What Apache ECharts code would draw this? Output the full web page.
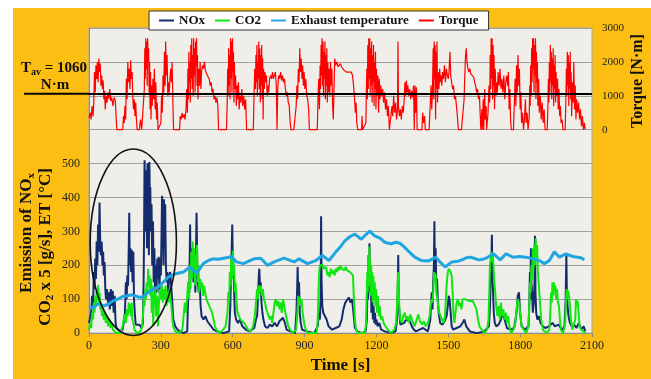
<!DOCTYPE html>
<html>
<head>
<meta charset="utf-8">
<script src="https://cdn.jsdelivr.net/npm/echarts@6/dist/echarts.min.js"></script>
<style>
  html, body { margin: 0; padding: 0; background: #fff; }
  #wrap { position: relative; width: 651px; height: 379px; overflow: hidden; }
  #bg { position: absolute; left: 13px; top: 8px; right: 0; bottom: 0; background: #FDBE14; }
  #chart { position: absolute; left: 0; top: 0; width: 651px; height: 379px; }
</style>
</head>
<body>
<div id="wrap"><div id="bg"></div><div id="chart"></div></div>
<script>
// [time s, value]
const torque = [
  [0,350],[5,500],[9,300],[13,700],[17,400],[20,800],[23,1700],[26,1100],[29,1900],[32,1500],[35,2000],[38,1400],[41,2100],[44,1700],[47,1950],[50,1300],[53,1600],[56,1200],[59,1450],[62,900],[65,1150],[68,600],[71,1000],[75,800],[79,1100],[83,900],[87,1200],[91,850],[95,950],[100,700],[105,950],[110,850],[113,400],[116,0],[125,0],[133,0],[141,0],[144,400],[147,200],[150,700],[153,300],[156,1500],[159,900],[162,2000],[165,1400],[168,1800],[171,1200],[174,2050],[177,1500],[180,1700],[183,900],[186,600],[189,900],[192,400],[195,800],[198,300],[201,0],[210,0],[215,300],[220,0],[228,0],
  [231,1200],[233,2400],[235,1500],[237,2700],[239,1800],[241,2600],[243,1300],[245,2700],[247,2000],[249,2400],[251,1100],[253,2000],[255,600],[257,1700],[259,300],[261,1300],[264,700],[267,1500],[270,900],[273,1800],[276,600],[279,1400],[282,300],[285,800],[288,0],[295,0],[300,200],[303,1000],[306,500],[309,1600],[312,1100],[315,2300],[318,1300],[320,2600],[323,1600],[326,2200],[329,1000],[332,1400],[335,1100],[338,1500],[341,1800],[344,1400],[347,2000],[350,900],[353,0],[365,0],[378,0],[381,400],[385,300],[389,500],[393,350],[397,450],[401,300],[405,600],
  [408,1200],[411,500],[413,1800],[415,900],[417,2300],[419,1400],[421,2000],[423,800],[425,2500],[427,1500],[429,2700],[431,1200],[433,2200],[435,1000],[437,2700],[439,1600],[441,2400],[443,1100],[445,2600],[447,1900],[449,2700],[451,1300],[453,2200],[455,900],[458,1800],[461,1300],[464,2000],[467,1200],[470,1700],[474,1900],[478,1800],[482,2000],[486,1750],[490,1800],[494,1600],[498,1650],[502,1500],[506,1300],[510,1400],[514,1100],[518,1200],[522,900],[526,1000],[530,800],[534,950],[538,700],[541,0],[555,0],[574,0],
  [577,800],[579,1800],[581,1000],[583,2400],[585,1300],[587,2200],[589,900],[591,2700],[593,1500],[595,2600],[597,1100],[599,2700],[601,1700],[603,2300],[605,800],[607,2000],[609,1200],[612,1600],[615,700],[618,1300],[621,900],[624,1400],[627,600],[630,1000],[634,800],[638,1200],[642,700],[646,1000],[650,600],[654,900],[658,0],[670,0],[686,0],
  [689,1000],[692,1800],[695,1200],[697,2200],[699,1400],[701,2500],[703,1000],[705,2000],[707,1500],[709,2600],[711,1200],[713,2400],[715,800],[717,2200],[719,1300],[721,2500],[723,900],[725,2100],[727,300],[729,1800],[732,1200],[735,1700],[738,1400],[741,1600],[744,1000],[747,1300],[750,1100],[754,1500],[758,1600],[762,1500],[766,1700],[770,1500],[774,1600],[778,1700],[782,1300],[785,0],[788,1200],[792,1600],[796,1500],[800,1700],[804,1450],[808,1600],[812,1400],[816,1500],[820,1200],[824,1000],[828,1100],[832,800],[836,700],[840,200],[843,0],[855,0],[862,0],
  [865,700],[868,1300],[871,900],[874,1800],[877,1400],[880,2400],[883,1700],[886,2100],[889,1500],[892,1900],[895,1300],[898,1700],[901,1200],[905,1500],[909,1000],[913,900],[917,600],[920,0],[935,0],[953,0],
  [956,900],[959,1500],[962,600],[965,1900],[967,1200],[969,2500],[971,1600],[973,2700],[975,1300],[977,2600],[979,1000],[981,2300],[983,1500],[985,2600],[987,900],[989,2200],[991,1300],[993,2400],[995,800],[997,2000],[999,1100],[1002,1800],[1005,1000],[1008,2000],[1011,1300],[1014,1800],[1017,700],[1020,300],[1023,1200],[1026,2100],[1030,1900],[1035,2000],[1040,1850],
  [1045,1900],[1050,1950],[1055,1850],[1060,1800],[1065,1750],[1070,1800],[1075,1700],[1080,1750],[1085,1700],[1090,1650],[1095,1700],[1100,1600],[1104,1350],[1108,1000],[1112,500],[1115,800],[1118,200],[1122,0],[1130,0],[1138,0],[1140,400],[1142,0],[1150,0],[1156,200],
  [1158,1100],[1160,1800],[1162,900],[1164,2500],[1166,1200],[1168,2700],[1170,1500],[1172,2700],[1174,1000],[1176,2400],[1178,1300],[1180,2600],[1182,800],[1184,2200],[1186,1400],[1188,2500],[1190,700],[1192,2000],[1194,1200],[1196,2300],[1198,600],[1200,1800],[1203,1000],[1206,1600],[1209,500],[1212,1500],[1215,900],[1218,1300],[1222,1000],[1226,1200],[1230,800],[1234,1100],[1238,600],[1242,900],[1246,400],[1250,700],[1254,0],[1262,0],
  [1265,700],[1268,400],[1272,1000],[1276,500],[1280,800],[1284,300],[1288,600],[1290,2600],[1292,700],[1296,400],[1300,600],[1304,300],[1308,700],[1312,500],[1316,900],[1319,1400],[1322,1000],[1325,1450],[1328,1100],[1331,1300],[1335,1000],[1339,1200],[1343,900],[1347,1150],[1351,950],[1355,1300],[1358,0],[1361,1300],[1364,500],[1367,1250],[1370,0],[1380,0],[1390,0],
  [1393,500],[1397,200],[1401,400],[1404,0],[1420,0],[1425,800],[1428,1300],[1431,600],[1434,1200],[1437,2400],[1439,900],[1441,2600],[1443,1500],[1445,2500],[1447,300],[1449,2300],[1451,1200],[1453,2600],[1455,800],[1458,1700],[1461,1200],[1464,1800],[1467,1400],[1470,1600],[1473,1300],[1476,1700],[1480,1500],[1484,1900],[1488,1400],[1492,1800],[1496,1600],[1500,1500],[1503,1700],[1507,2300],[1510,1600],[1514,1400],[1518,1200],[1522,1300],[1526,900],[1530,1000],[1534,700],[1538,400],[1542,0],[1555,0],[1562,0],
  [1566,900],[1569,1600],[1572,2200],[1575,2400],[1578,2000],[1582,1800],[1586,1700],[1590,1800],[1594,1650],[1598,1700],[1602,1600],[1606,1550],[1610,1400],[1614,1300],[1618,1100],[1622,1200],[1626,900],[1630,1000],[1633,500],[1636,0],[1640,600],[1642,0],[1646,900],[1648,0],[1652,1200],[1654,300],[1658,700],[1660,0],[1666,500],
  [1670,1300],[1673,800],[1675,2200],[1677,1200],[1679,2700],[1681,1500],[1683,2700],[1685,900],[1687,2500],[1689,1300],[1691,2200],[1693,600],[1696,1800],[1699,1000],[1702,1400],[1705,1100],[1708,1700],[1712,1300],[1716,1800],[1720,1200],[1724,1500],[1728,1100],[1732,1600],[1736,900],[1740,1400],
  [1744,1600],[1748,1300],[1751,1700],[1754,600],[1757,1200],[1760,300],[1763,0],[1772,0],[1776,800],[1779,1500],[1782,700],[1785,1900],[1788,1100],[1791,2200],[1794,1300],[1797,1800],[1800,600],[1803,1100],[1806,200],[1810,500],[1814,0],[1818,300],[1822,900],[1825,200],[1829,500],[1833,0],[1838,400],
  [1840,1300],[1842,700],[1844,1900],[1846,1000],[1848,2400],[1850,1400],[1852,2700],[1854,1800],[1856,2700],[1858,1100],[1860,2500],[1862,1600],[1864,2700],[1866,900],[1868,2300],[1870,1400],[1872,2000],[1874,700],[1877,1500],[1880,500],[1884,1000],[1888,300],[1892,800],[1896,200],[1900,600],[1904,0],[1913,0],
  [1916,700],[1918,1500],[1920,800],[1922,2000],[1924,1100],[1926,2500],[1928,1400],[1930,2300],[1932,900],[1934,2100],[1936,1300],[1938,2400],[1940,700],[1942,1900],[1944,1200],[1946,2200],[1948,800],[1950,1700],[1953,1000],[1956,1500],[1959,600],[1962,1200],[1965,400],[1968,700],[1971,200],[1975,300],[1979,0],[1988,0],
  [1991,900],[1993,1800],[1995,1000],[1997,2300],[1999,1300],[2001,2200],[2003,700],[2005,2000],[2007,1200],[2009,2300],[2011,900],[2013,1700],[2015,400],[2018,1400],[2021,800],[2024,2000],[2027,600],[2030,1300],[2033,300],[2036,900],[2040,500],[2044,800],[2048,300],[2052,600],[2056,100],[2060,400],[2064,0],[2068,200],[2072,0]
];

const nox = [
  [0,30],[5,25],[9,60],[13,110],[17,80],[20,180],[23,130],[26,220],[29,160],[32,270],[35,200],[38,320],[41,240],[44,385],[47,260],[50,230],[53,270],[56,200],[59,240],[62,170],[65,210],[68,130],[71,100],[75,130],[79,90],[83,120],[87,70],[91,130],[95,80],[99,125],[103,60],[107,110],[111,30],[115,15],[120,10],[130,5],[140,10],[145,30],[150,60],[154,150],[157,100],[160,170],[163,140],[166,250],[168,355],[170,200],[173,250],[176,180],[179,245],[182,150],[185,240],[188,100],[191,60],[195,25],[200,20],[210,25],[220,15],[225,30],
  [228,150],[230,300],[232,510],[234,350],[236,480],[238,300],[240,470],[242,250],[244,500],[246,380],[248,440],[250,230],[252,505],[254,400],[256,430],[258,300],[261,380],[264,200],[267,330],[270,150],[273,250],[276,100],[279,200],[282,120],[285,220],[288,160],[291,225],[294,120],[297,220],[300,170],[303,300],[305,405],[307,250],[309,390],[311,200],[313,395],[315,300],[318,380],[321,200],[324,150],[327,180],[331,120],[335,170],[339,180],[343,140],[347,100],[352,40],[360,20],[370,10],[380,5],[395,0],
  [410,5],[413,80],[416,150],[419,120],[422,320],[424,200],[427,250],[430,180],[433,230],[436,150],[440,200],[444,120],[447,250],[449,355],[452,200],[455,150],[458,120],[462,150],[466,80],[470,50],[478,40],[486,50],[494,35],[502,30],[510,20],[520,10],[535,5],[560,0],[585,5],[590,80],[593,180],[596,250],[598,320],[600,230],[603,200],[606,120],[609,60],[614,40],[622,30],[630,40],[640,20],[655,10],[670,5],[690,15],
  [697,40],[702,50],[706,110],[709,170],[711,190],[714,130],[717,150],[720,90],[724,60],[728,40],[735,20],[745,15],[755,25],[765,20],[775,30],[785,20],[795,35],[803,40],[810,45],[818,30],[825,10],[840,5],[860,0],[866,60],[869,130],[871,195],[874,110],[877,150],[880,60],[884,30],[890,10],[910,5],[940,0],[955,20],[960,60],[964,40],[967,100],[969,345],[971,150],[974,80],[978,60],[985,55],[992,40],[1000,20],[1015,10],[1030,15],
  [1045,20],[1055,40],[1062,70],[1070,90],[1078,95],[1085,105],[1092,90],[1098,100],[1104,60],[1110,15],[1120,5],[1140,0],[1155,5],[1160,40],[1163,150],[1165,100],[1167,230],[1169,160],[1171,265],[1173,120],[1176,180],[1179,60],[1182,130],[1185,40],[1188,80],[1191,30],[1194,60],[1197,25],[1200,40],[1205,20],[1212,30],[1220,10],[1235,5],[1260,0],[1280,5],[1286,40],[1289,120],[1291,230],[1293,100],[1296,60],[1300,25],[1308,20],[1316,30],[1324,40],[1332,45],[1340,35],[1348,20],[1356,10],[1365,5],[1380,10],[1395,15],[1405,10],[1415,5],
  [1425,40],[1428,90],[1431,120],[1434,70],[1437,150],[1440,200],[1442,330],[1444,180],[1447,250],[1450,140],[1453,160],[1456,100],[1460,60],[1466,30],[1475,25],[1485,35],[1493,50],[1498,80],[1502,110],[1506,95],[1510,60],[1514,20],[1520,10],[1535,15],[1550,20],[1560,30],[1567,40],[1575,20],[1590,5],[1620,0],[1650,5],[1670,20],[1674,80],[1677,150],[1680,200],[1682,290],[1684,180],[1687,120],[1690,60],[1694,30],[1700,20],[1710,25],[1720,40],[1728,60],[1735,40],[1745,15],[1760,10],[1775,15],
  [1785,60],[1790,110],[1795,120],[1800,60],[1806,20],[1820,10],[1835,20],[1838,80],[1841,180],[1843,100],[1845,250],[1847,150],[1850,120],[1853,60],[1857,90],[1860,150],[1862,287],[1864,120],[1867,60],[1872,40],[1878,50],[1885,30],[1895,20],[1905,15],[1920,20],[1935,30],[1945,20],[1960,25],[1975,10],[1985,20],[1990,100],[1993,230],[1995,120],[1998,80],[2002,50],[2008,30],[2015,20],[2025,25],[2035,15],[2045,30],[2055,10],[2065,20],[2072,5]
];

const co2 = [
  [0,10],[5,30],[9,15],[13,60],[17,40],[20,90],[23,60],[26,110],[29,80],[32,130],[35,100],[38,142],[41,90],[44,120],[47,70],[50,90],[54,50],[58,70],[62,40],[66,60],[70,30],[75,50],[80,20],[85,40],[90,15],[95,30],[100,10],[108,5],[115,0],[130,0],[140,20],[145,40],[150,55],[154,30],[158,70],[162,50],[166,90],[169,60],[172,85],[175,50],[178,90],[181,40],[185,30],[190,10],[200,0],[215,5],
  [222,20],[226,60],[229,110],[232,80],[235,130],[238,100],[241,150],[244,120],[247,190],[250,140],[253,170],[256,110],[259,160],[262,60],[265,140],[268,20],[271,120],[274,80],[277,130],[280,50],[284,110],[288,20],[292,90],[296,130],[300,100],[304,140],[308,90],[312,130],[316,100],[320,140],[324,80],[328,120],[332,90],[336,130],[340,100],[344,80],[348,40],[352,20],[360,5],[375,0],
  [390,10],[395,50],[400,90],[405,60],[410,110],[414,150],[418,100],[421,200],[424,130],[427,240],[430,160],[433,270],[436,180],[439,250],[442,140],[445,230],[448,170],[451,260],[454,150],[457,200],[460,120],[464,160],[468,130],[472,150],[476,110],[480,140],[485,120],[490,100],[496,90],[502,80],[508,70],[514,60],[520,40],[526,20],[532,10],[545,0],[560,10],[570,20],
  [578,60],[582,120],[585,90],[588,180],[591,140],[594,230],[597,160],[600,243],[603,170],[606,200],[609,120],[612,150],[616,90],[620,60],[626,50],[632,40],[640,45],[648,30],[656,20],[664,10],[675,5],[685,20],
  [692,50],[697,90],[702,130],[706,100],[710,140],[714,120],[718,140],[722,110],[726,130],[730,100],[735,90],[740,70],[745,60],[750,50],[755,40],[760,50],[765,30],[770,60],[775,90],[780,100],[785,80],[790,95],[795,70],[800,90],[805,60],[810,100],[815,80],[820,60],[826,40],[832,20],[840,10],[850,0],[865,10],[870,60],[874,110],[877,80],[880,105],[884,90],[888,100],[892,60],[898,30],[905,10],[915,0],[950,0],
  [955,40],[958,120],[961,180],[964,200],[968,200],[972,195],[976,200],[980,190],[985,185],[990,195],[995,170],[1000,180],[1005,165],[1010,190],[1015,175],[1020,185],[1025,170],[1030,190],[1035,180],[1040,195],[1045,185],[1050,200],[1055,190],[1060,190],[1066,185],[1072,195],[1078,185],[1084,190],[1090,180],[1096,185],[1102,170],[1106,100],[1110,40],[1115,10],[1125,0],[1150,0],
  [1156,20],[1159,100],[1162,180],[1164,120],[1166,230],[1168,150],[1170,255],[1172,140],[1174,220],[1176,110],[1178,200],[1180,130],[1182,180],[1184,90],[1187,170],[1190,100],[1193,150],[1196,80],[1199,130],[1202,60],[1206,110],[1210,50],[1214,80],[1218,40],[1224,50],[1230,30],[1238,20],[1248,10],[1260,0],[1275,10],
  [1282,30],[1286,80],[1289,150],[1291,180],[1293,120],[1296,70],[1300,40],[1306,30],[1312,50],[1318,60],[1324,40],[1330,50],[1336,30],[1342,55],[1348,40],[1354,30],[1360,20],[1368,40],[1375,55],[1382,35],[1390,25],[1398,35],[1406,20],[1415,30],
  [1422,50],[1426,80],[1430,100],[1434,90],[1438,130],[1441,180],[1444,150],[1447,175],[1450,120],[1454,100],[1458,80],[1462,60],[1468,50],[1474,40],[1480,30],[1486,50],[1490,100],[1494,150],[1498,180],[1502,190],[1506,185],[1510,180],[1514,170],[1518,120],[1522,50],[1526,30],[1530,60],[1535,90],[1540,100],[1545,80],[1550,90],[1555,70],[1560,100],[1565,95],[1570,100],[1578,100],[1586,95],[1594,100],[1602,95],[1610,90],[1618,70],[1624,40],[1630,20],[1640,10],[1650,0],[1662,10],
  [1668,40],[1671,120],[1674,200],[1677,220],[1680,240],[1683,210],[1686,230],[1689,190],[1692,150],[1696,120],[1700,80],[1705,50],[1710,80],[1715,40],[1720,90],[1725,50],[1730,70],[1735,40],[1740,60],[1745,30],[1750,50],[1755,20],[1762,0],[1772,10],[1780,30],[1785,70],[1790,100],[1795,90],[1800,60],[1806,20],[1815,10],[1825,0],
  [1835,20],[1838,80],[1841,150],[1844,120],[1847,200],[1850,160],[1853,250],[1856,190],[1859,260],[1862,200],[1865,280],[1868,220],[1871,260],[1874,180],[1877,150],[1880,120],[1884,80],[1888,40],[1895,10],[1910,0],
  [1922,10],[1926,60],[1929,120],[1932,90],[1935,150],[1938,110],[1941,150],[1944,120],[1947,140],[1950,100],[1954,130],[1958,90],[1962,80],[1966,40],[1970,10],[1980,0],[1988,30],[1991,90],[1994,130],[1997,100],[2000,125],[2004,110],[2008,80],[2012,40],[2018,10],[2025,5],[2030,40],[2033,100],[2036,80],[2040,95],[2044,60],[2048,20],[2055,10],[2065,5],[2072,0]
];

const exhaustTemp = [
  [0,75],[20,75],[40,88],[60,80],[80,85],[100,95],[120,100],[140,108],[160,110],[180,113],[200,108],[215,105],[230,110],[250,122],[270,130],[290,137],[310,150],[330,165],[345,170],[366,176],[394,180],[421,195],[449,176],[477,205],[500,215],[519,219],[540,218],[561,221],[580,223],[595,226],[616,210],[644,205],[672,214],[689,219],[717,221],[745,200],[773,210],[814,221],[856,210],[877,219],[912,205],[947,214],[974,229],[1002,214],[1030,239],[1050,255],[1068,272],[1090,285],[1110,292],[1137,277],[1155,290],[1172,301],[1193,287],[1215,280],[1235,268],[1263,263],[1280,268],[1298,265],[1315,255],[1332,243],[1360,224],[1388,214],[1418,213],[1448,224],[1465,210],[1487,195],[1515,210],[1540,212],[1557,216],[1575,222],[1592,224],[1610,220],[1627,216],[1645,218],[1661,222],[1689,234],[1717,216],[1741,234],[1769,224],[1797,226],[1825,224],[1852,219],[1880,214],[1901,205],[1922,214],[1943,240],[1964,224],[1991,234],[2019,226],[2054,222],[2068,217]
];

const avgTorque = 1060;
const seriesNames = ['NOx', 'CO2', 'Exhaust temperature', 'Torque'];
const seriesColors = ['#142C6E', '#11E611', '#1EA6E0', '#FF0000'];

const serif = '"Liberation Serif", "Times New Roman", serif';
const chart = echarts.init(document.getElementById('chart'));

function line(i, data, axis, width) {
  return {
    name: seriesNames[i], type: 'line', yAxisIndex: axis, data: data,
    showSymbol: false, symbol: 'none', animation: false,
    lineStyle: { color: seriesColors[i], width: width },
    itemStyle: { color: seriesColors[i] }
  };
}

const torqueSeries = line(3, torque, 1, 1.2);
torqueSeries.markLine = {
  silent: true, symbol: 'none', animation: false,
  label: { show: false },
  lineStyle: { color: '#000', width: 2, type: 'solid' },
  data: [{ yAxis: avgTorque }]
};

chart.setOption({
  animation: false,
  legend: {
    data: seriesNames, top: 11, left: 149,
    backgroundColor: '#fff', borderColor: '#333', borderWidth: 1, borderRadius: 0,
    padding: [3, 10, 3, 10], itemGap: 10, itemWidth: 15, itemHeight: 2, icon: 'rect',
    textStyle: { fontFamily: serif, fontWeight: 'bold', fontSize: 13, color: '#111' }
  },
  grid: { left: 89, right: 59, top: 28, bottom: 40, show: true, backgroundColor: '#EFEEE9', borderColor: '#A8A8A8', borderWidth: 1 },
  xAxis: {
    type: 'value', min: 0, max: 2100, interval: 300,
    axisLine: { show: true, lineStyle: { color: '#8C8C8C' } },
    axisTick: { show: true, length: 4, lineStyle: { color: '#8C8C8C' } },
    axisLabel: { color: '#222', fontFamily: serif, fontSize: 12, margin: 7, formatter: v => String(v) },
    splitLine: { show: false },
    name: 'Time [s]', nameLocation: 'middle', nameGap: 22,
    nameTextStyle: { fontFamily: serif, fontWeight: 'bold', fontSize: 17, color: '#111' }
  },
  yAxis: [
    {
      type: 'value', min: 0, max: 900, interval: 100, position: 'left',
      axisLine: { show: true, lineStyle: { color: '#8C8C8C' } },
      axisTick: { show: false },
      axisLabel: { color: '#222', fontFamily: serif, fontSize: 12, margin: 9, formatter: v => (v <= 500 ? String(v) : '') },
      splitLine: { show: true, lineStyle: { color: '#A0A0A0', width: 1 } }
    },
    {
      type: 'value', min: -6000, max: 3000, interval: 1000, position: 'right',
      axisLine: { show: false }, axisTick: { show: false },
      axisLabel: { color: '#222', fontFamily: serif, fontSize: 11, margin: 10, formatter: v => (v >= 0 ? String(v) : '') },
      splitLine: { show: false }
    }
  ],
  series: [
    line(0, nox, 0, 2),
    line(1, co2, 0, 2),
    line(2, exhaustTemp, 0, 3),
    torqueSeries
  ]
});

// annotations: positions derived from the axes
const yAv = chart.convertToPixel({ yAxisIndex: 1 }, avgTorque);
const xLeft = chart.convertToPixel({ xAxisIndex: 0 }, 0);
const c = chart.convertToPixel({ xAxisIndex: 0, yAxisIndex: 0 }, [185, 268]);
const e = chart.convertToPixel({ xAxisIndex: 0, yAxisIndex: 0 }, [365, 543]);

const titleFont = { fontFamily: serif, fontWeight: 'bold', fontSize: 17, fill: '#111' };

chart.setOption({
  graphic: [
    { type: 'line', silent: true, z: 10, shape: { x1: 24, y1: yAv, x2: xLeft, y2: yAv }, style: { stroke: '#000', lineWidth: 2 } },
    { type: 'ellipse', silent: true, z: 10, shape: { cx: c[0], cy: c[1], rx: e[0] - c[0], ry: c[1] - e[1] }, style: { fill: 'none', stroke: '#111', lineWidth: 1.6 } },
    {
      type: 'text', x: 54, y: 68, z: 10,
      style: {
        text: '{t|T}{s|av}{t| = 1060}', align: 'center', verticalAlign: 'middle',
        rich: {
          t: { fontFamily: serif, fontWeight: 'bold', fontSize: 15, fill: '#111' },
          s: { fontFamily: serif, fontWeight: 'bold', fontSize: 10, fill: '#111', padding: [8, 0, 0, 0] }
        }
      }
    },
    { type: 'text', x: 55, y: 85, z: 10, style: Object.assign({ text: 'N·m', align: 'center', verticalAlign: 'middle' }, titleFont, { fontSize: 15 }) },
    {
      type: 'text', x: 27, y: 233, rotation: Math.PI / 2, z: 10,
      style: {
        text: '{t|Emission of NO}{s|x}', align: 'center', verticalAlign: 'middle',
        rich: {
          t: { fontFamily: serif, fontWeight: 'bold', fontSize: 17, fill: '#111' },
          s: { fontFamily: serif, fontWeight: 'bold', fontSize: 11, fill: '#111', padding: [9, 0, 0, 0] }
        }
      }
    },
    {
      type: 'text', x: 46, y: 247, rotation: Math.PI / 2, z: 10,
      style: {
        text: '{t|CO}{s|2}{t| x 5 [g/s], ET [°C]}', align: 'center', verticalAlign: 'middle',
        rich: {
          t: { fontFamily: serif, fontWeight: 'bold', fontSize: 17, fill: '#111' },
          s: { fontFamily: serif, fontWeight: 'bold', fontSize: 11, fill: '#111', padding: [9, 0, 0, 0] }
        }
      }
    },
    { type: 'text', x: 638, y: 81, rotation: Math.PI / 2, z: 10, style: Object.assign({ text: 'Torque [N·m]', align: 'center', verticalAlign: 'middle' }, titleFont, { fontSize: 16 }) }
  ]
});
</script>
</body>
</html>
